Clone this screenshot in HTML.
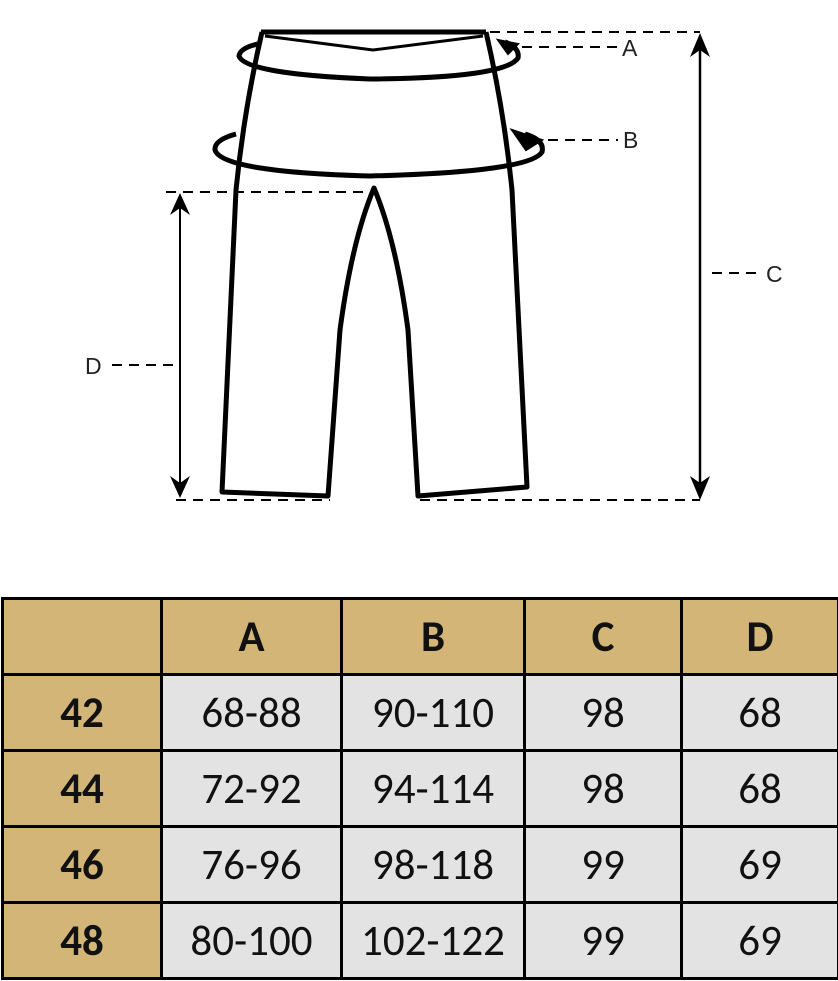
<!DOCTYPE html>
<html><head><style>
html,body{margin:0;padding:0;background:#fff;width:838px;height:981px;overflow:hidden;font-family:"Liberation Sans",sans-serif}
svg{position:absolute;left:0;top:0}
table{position:absolute;left:1px;top:597px;width:836px;height:382px;border-collapse:collapse;table-layout:fixed;font-family:"Carlito","Liberation Sans",sans-serif}
tr{height:76px}
td{border:3px solid #000;text-align:center;font-size:43px;padding:0;color:#111}
td.h{background:#D3B677;font-weight:bold}
td.g{background:#E3E3E3}
</style></head><body>
<svg width="838" height="560" viewBox="0 0 838 560">
<g fill="none" stroke="#000">
<path d="M261 32 L486 32" stroke-width="5"/>
<path d="M265 36 L373 50 L483 36" stroke-width="3"/>
<path d="M262 32 Q244 110 236 190 L222 492 L328 496 L340 330 Q352 240 374 188 Q396 240 408 330 L418 496 L527 487 L512 190 Q504 110 486 32" stroke-width="5" stroke-linejoin="round"/>
<path d="M258 44 Q240 48 239 56 Q245 74 370 79 Q505 78 518 58 Q520 48 505 42" stroke-width="5"/>
<path d="M498 40 L518 44 L508 54 Z" fill="#000" stroke-width="2"/>
<path d="M236 134 Q214 140 215 150 Q222 172 370 176 Q530 172 542 152 Q545 140 525 134" stroke-width="5"/>
<path d="M512 130 L542 140 L526 150 Z" fill="#000" stroke-width="2"/>
<g stroke-width="2" stroke-dasharray="10 7">
<path d="M490 32 H700"/>
<path d="M522 47 H620"/>
<path d="M548 140 H618"/>
<path d="M712 273 H762"/>
<path d="M166 192 H372"/>
<path d="M112 365 H178"/>
<path d="M176 500 H330 M420 500 H700"/>
</g>
<path d="M700 40 V492" stroke-width="2.5"/>
<path d="M180 200 V492" stroke-width="2"/>
</g>
<g fill="#000">
<path d="M700 33 L690 57 L700 50 L710 57 Z"/>
<path d="M700 500 L690 476 L700 483 L710 476 Z"/>
<path d="M180 193 L170 215 L180 208 L190 215 Z"/>
<path d="M180 498 L170 476 L180 483 L190 476 Z"/>
</g>
<g font-size="23" fill="#222" font-family="Liberation Sans,sans-serif">
<text x="622" y="56">A</text>
<text x="623" y="148">B</text>
<text x="766" y="282">C</text>
<text x="85" y="374">D</text>
</g>
</svg>
<table>
<colgroup><col style="width:159px"><col style="width:180px"><col style="width:183px"><col style="width:157px"><col style="width:157px"></colgroup>
<tr><td class="h"></td><td class="h">A</td><td class="h">B</td><td class="h">C</td><td class="h">D</td></tr>
<tr><td class="h">42</td><td class="g">68-88</td><td class="g">90-110</td><td class="g">98</td><td class="g">68</td></tr>
<tr><td class="h">44</td><td class="g">72-92</td><td class="g">94-114</td><td class="g">98</td><td class="g">68</td></tr>
<tr><td class="h">46</td><td class="g">76-96</td><td class="g">98-118</td><td class="g">99</td><td class="g">69</td></tr>
<tr><td class="h">48</td><td class="g">80-100</td><td class="g">102-122</td><td class="g">99</td><td class="g">69</td></tr>
</table>
</body></html>
